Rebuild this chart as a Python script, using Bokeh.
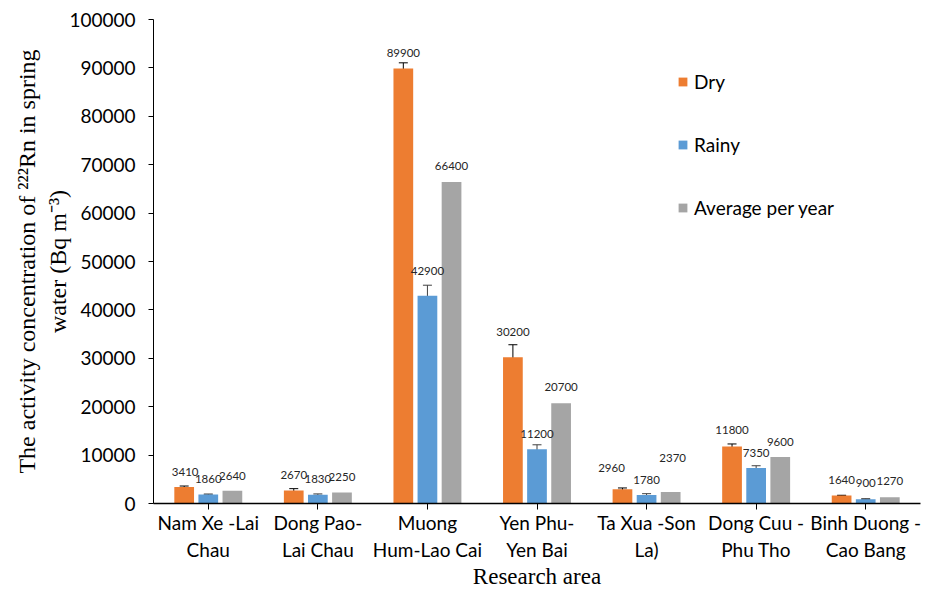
from bokeh.plotting import figure
from bokeh.models import (ColumnDataSource, FactorRange, Range1d, Whisker, TeeHead,
                          Legend, LegendItem, FixedTicker, NumeralTickFormatter)
from bokeh.transform import dodge
from bokeh.core.properties import value
from bokeh.embed import file_html
from bokeh.resources import INLINE

# ---- data ----
areas = ["Nam Xe -Lai\nChau", "Dong Pao-\nLai Chau", "Muong\nHum-Lao Cai",
         "Yen Phu-\nYen Bai", "Ta Xua -Son\nLa)", "Dong Cuu -\nPhu Tho",
         "Binh Duong -\nCao Bang"]
dry = [3410, 2670, 89900, 30200, 2960, 11800, 1640]
rainy = [1860, 1830, 42900, 11200, 1780, 7350, 900]
average = [2640, 2250, 66400, 20700, 2370, 9600, 1270]
dry_err = [200, 400, 1150, 2600, 250, 500, 60]
rainy_err = [100, 150, 2200, 930, 250, 450, 100]
y_ticks = [0, 10000, 20000, 30000, 40000, 50000, 60000, 70000, 80000, 90000, 100000]

# ---- label placement styles (pixels) ----
dry_dy = [-14, -14, -10, -13, -20, -14, -15]
dry_dx = [1, 0, 0, 0, -11, 0, 0]
rainy_dy = [-15, -15, -14, -11, -14, -13, -16]
avg_dy = [-15, -16, -16, -16, -34, -15, -16]
avg_dx = [0, 0, 0, 0, 2, 0, 0]

C_DRY = "#ED7D31"
C_RAINY = "#5B9BD5"
C_AVG = "#A5A5A5"
TICK_FONT = "Lato"
SERIF = "Liberation Serif"

src = ColumnDataSource(dict(
    area=areas, dry=dry, rainy=rainy, avg=average,
    dry_lo=[v - e for v, e in zip(dry, dry_err)],
    dry_hi=[v + e for v, e in zip(dry, dry_err)],
    rainy_lo=[v - e for v, e in zip(rainy, rainy_err)],
    rainy_hi=[v + e for v, e in zip(rainy, rainy_err)],
    dry_txt=[str(v) for v in dry], rainy_txt=[str(v) for v in rainy],
    avg_txt=[str(v) for v in average],
    dry_dy=dry_dy, dry_dx=dry_dx, rainy_dy=rainy_dy, avg_dy=avg_dy, avg_dx=avg_dx,
))

p = figure(x_range=FactorRange(*areas, range_padding=0), y_range=Range1d(0, 100000),
           width=927, height=592,
           min_border_left=153, min_border_right=7, min_border_top=19, min_border_bottom=89,
           output_backend="svg", toolbar_location=None)
p.outline_line_color = None
p.xgrid.grid_line_color = None
p.ygrid.grid_line_color = None

OFF = 0.22
W = 0.18
r_dry = p.vbar(x=dodge("area", -OFF, range=p.x_range), top="dry", width=W, source=src,
               fill_color=C_DRY, line_color=None)
r_rainy = p.vbar(x=dodge("area", 0, range=p.x_range), top="rainy", width=W, source=src,
                 fill_color=C_RAINY, line_color=None)
r_avg = p.vbar(x=dodge("area", OFF, range=p.x_range), top="avg", width=W, source=src,
               fill_color=C_AVG, line_color=None)

for col, off, color in (("dry", -OFF, "#000000"), ("rainy", 0, "#404040")):
    w = Whisker(base=dodge("area", off, range=p.x_range), upper=col + "_hi", lower=col + "_lo",
                source=src, line_color=color, line_width=1,
                upper_head=TeeHead(size=9, line_color=color, line_width=1),
                lower_head=TeeHead(size=9, line_color=color, line_width=1))
    p.add_layout(w)

lab_kw = dict(source=src, text_align="center", text_baseline="middle",
              text_font=value(TICK_FONT), text_font_size="11.5px", text_color="#262626")
p.text(x=dodge("area", -OFF, range=p.x_range), y="dry_hi", text="dry_txt",
       x_offset="dry_dx", y_offset="dry_dy", **lab_kw)
p.text(x=dodge("area", 0, range=p.x_range), y="rainy_hi", text="rainy_txt",
       y_offset="rainy_dy", **lab_kw)
p.text(x=dodge("area", OFF, range=p.x_range), y="avg", text="avg_txt",
       x_offset="avg_dx", y_offset="avg_dy", **lab_kw)

# axes
p.yaxis.ticker = FixedTicker(ticks=y_ticks)
p.yaxis.formatter = NumeralTickFormatter(format="0")
p.yaxis.major_tick_in = 0
p.yaxis.major_tick_out = 5
p.yaxis.minor_tick_line_color = None
p.yaxis.major_label_standoff = 13
p.yaxis.major_label_text_font = TICK_FONT
p.yaxis.major_label_text_font_size = "19px"
p.yaxis.major_label_text_color = "#000000"
p.yaxis.axis_line_color = "#000000"
p.yaxis.major_tick_line_color = "#000000"
p.yaxis.axis_label = "The activity concentration of \u00b2\u00b2\u00b2Rn in spring\nwater (Bq m\u207b\u00b3)"
p.yaxis.axis_label_text_font = SERIF
p.yaxis.axis_label_text_font_style = "normal"
p.yaxis.axis_label_text_font_size = "24px"
p.yaxis.axis_label_text_color = "#000000"
p.yaxis.axis_label_standoff = -5

p.xaxis.major_tick_in = 0
p.xaxis.major_tick_out = 6
p.xaxis.axis_line_width = 1.5
p.xaxis.axis_line_color = "#000000"
p.xaxis.major_tick_line_color = "#000000"
p.xaxis.major_label_standoff = 1
p.xaxis.major_label_text_font = TICK_FONT
p.xaxis.major_label_text_font_size = "19px"
p.xaxis.major_label_text_color = "#000000"
p.xaxis.axis_label = "Research area"
p.xaxis.axis_label_text_font = SERIF
p.xaxis.axis_label_text_font_style = "normal"
p.xaxis.axis_label_text_font_size = "23px"
p.xaxis.axis_label_text_color = "#000000"
p.xaxis.axis_label_standoff = 0

legend = Legend(items=[LegendItem(label="Dry", renderers=[r_dry]),
                       LegendItem(label="Rainy", renderers=[r_rainy]),
                       LegendItem(label="Average per year", renderers=[r_avg])],
                location=(524, 284), padding=0, margin=0, spacing=40,
                glyph_width=11, glyph_height=11, label_height=20, label_standoff=6,
                label_text_font=TICK_FONT, label_text_font_size="19px",
                label_text_color="#000000", border_line_color=None,
                background_fill_alpha=0)
p.add_layout(legend, "center")

open("out.html", "w").write(file_html(p, INLINE))
